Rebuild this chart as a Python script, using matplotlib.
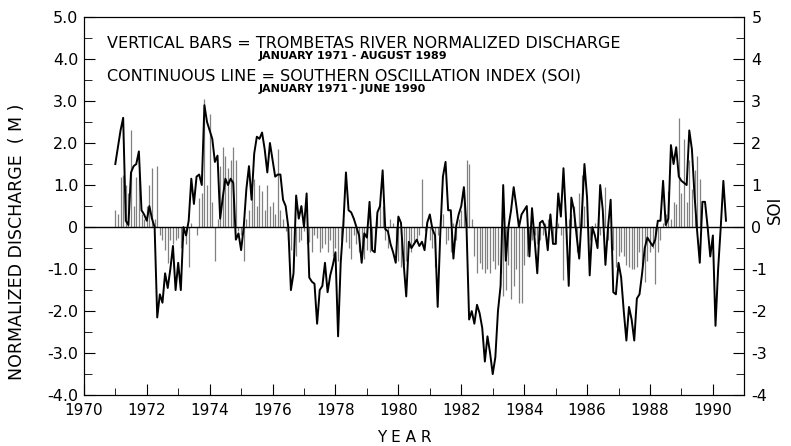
import matplotlib
matplotlib.use('Agg')
import matplotlib.pyplot as plt
from matplotlib.ticker import MultipleLocator

# monthly values, Jan 1971 onwards
discharge = [
    0.4, 0.3, 1.2, 1.25, 1.0, 0.8, 2.3, 0.5, 1.2, 1.3, 0.3, 0.2,
    0.5, 1.0, 1.4, 0.2, 1.45, -0.2, -0.3, -0.55, -0.85, -0.3, -0.4, -0.3,
    -0.25, -0.5, -0.3, -0.4, -0.95, 0.1, 0.0, -0.2, 0.7, 0.8, 3.05, 1.0,
    2.7, 0.6, -0.8, 0.2, 1.45, 1.9, 1.7, 1.4, 1.6, 1.9, 1.6, -0.1,
    -0.2, -0.8, 0.2, 0.4, 0.9, 1.15, 0.5, 1.0, 0.85, 0.4, 1.0, 0.5,
    0.6, 0.3, 1.85, 0.4, 0.2, -0.1, -0.3, -0.55, -0.45, -0.7, -0.35, -0.3,
    -0.1, -0.4, -0.35, -0.6, -0.2, -0.25, -0.6, -0.5, -0.4, -0.6, -0.3, -0.7,
    -0.5, -0.8, -0.3, 0.2, -0.35, -0.5, -0.75, -0.2, -0.4, -0.6, -0.65, -0.75,
    -0.55, -0.6, -0.5, -0.4, 0.3, 0.55, 0.5, -0.3, -0.5, 0.2, 0.1, -0.6,
    -0.8, -0.95, -0.9, -0.8, -0.5, -0.6, -0.4, -0.35, -0.2, 1.15, -0.1, 0.2,
    -0.3, -0.5, -0.95, -0.2, 0.2, 0.3, -0.4, -0.3, -0.6, 0.1, -0.3, 0.2,
    0.4, 0.9, 1.6, 1.5, 0.2, -0.7, -1.1, -0.85, -1.0, -1.1, -1.0, -1.1,
    -0.8, -1.0, -0.9, -1.1, -1.65, -1.5, -0.9, -1.7, -1.4, -1.0, -1.8, -1.8,
    -0.9, -0.7, -0.5, -0.3, -0.2, -0.4, -0.3, -0.2, 0.1, 0.2, 0.3, -0.3,
    -0.4, 0.1, -0.2, -1.25, -0.4, 0.2, 0.3, 0.5, -0.6, 0.8, 1.25, 0.5,
    0.2, -0.3, -0.2, 0.1, 0.2, -0.2, 0.3, 0.95, -0.3, -0.5, -0.55, -0.95,
    -0.7, -0.6, -0.7, -0.9, -0.95, -1.0, -1.0, -0.95, -0.6, -0.9, -1.3, -0.8,
    -0.6, -0.5, -1.35, -0.6, -0.3, 0.1, 0.3, 0.85, 0.2, 0.6, 0.55, 2.6,
    0.8, 2.1, 0.6, 1.6, 0.9, 1.35, 1.7, 1.15,
]

soi = [
    1.5, 1.9, 2.3, 2.6, 0.15, 0.05, 1.3, 1.45, 1.5, 1.8, 0.4, 0.3,
    0.15, 0.5, 0.2, 0.0, -2.15, -1.6, -1.8, -1.1, -1.45, -1.0, -0.45, -1.5,
    -0.85, -1.5, 0.0, -0.2, 0.15, 1.15, 0.55, 1.2, 1.25, 1.0, 2.9, 2.5,
    2.3, 2.1, 1.55, 1.7, 0.2, 0.7, 1.15, 1.0, 1.15, 1.05, -0.3, -0.15,
    -0.55, 0.0, 0.9, 1.45, 0.65, 1.75, 2.15, 2.1, 2.25, 1.85, 1.3, 2.0,
    1.6, 1.2, 1.25, 1.25, 0.65, 0.5, 0.0, -1.5, -1.1, 0.75, 0.2, 0.5,
    0.0, 0.8, -1.2, -1.3, -1.35, -2.3, -1.5, -1.4, -0.85, -1.55, -1.15, -0.9,
    -0.6, -2.6, -0.85, 0.05, 1.3, 0.4, 0.35, 0.2, 0.0, -0.2, -0.85, -0.15,
    -0.25, 0.6, -0.55, -0.6, 0.35, 0.5, 1.35, -0.05, -0.1, -0.4, -0.6, -0.85,
    0.25, 0.1, -0.85, -1.65, -0.35, -0.5, -0.4, -0.3, -0.45, -0.35, -0.55, 0.1,
    0.3, -0.05, -0.2, -1.9, -0.15, 1.2, 1.55, 0.4, 0.4, -0.75, 0.0, 0.3,
    0.5, 0.95, 0.0, -2.2, -2.0, -2.3, -1.85, -2.05, -2.4, -3.2, -2.6, -3.0,
    -3.5, -3.1, -2.0, -1.4, 1.0, -0.8, 0.0, 0.4, 0.95, 0.5, 0.0, 0.3,
    0.4, 0.5, -0.7, 0.45, -0.3, -1.1, 0.1, 0.15, 0.0, -0.55, 0.3, -0.4,
    -0.4, 0.8, 0.25, 1.4, 0.15, -1.4, 0.7, 0.4, -0.2, -0.75, 0.3, 1.5,
    0.7, -1.15, 0.0, -0.2, -0.5, 1.0, 0.4, -0.9, 0.0, 0.65, -1.55, -1.6,
    -0.85, -1.2, -2.0, -2.7, -1.9, -2.2, -2.7, -1.7, -1.6, -1.1, -0.5, -0.25,
    -0.35, -0.45, -0.3, 0.15, 0.15, 1.1, 0.05, 0.2, 1.95, 1.5, 1.9, 1.2,
    1.1, 1.05, 1.0, 2.3, 1.85, 0.75, -0.1, -0.85, 0.6, 0.6, 0.0, -0.7,
    -0.2, -2.35, -1.0, 0.0, 1.1, 0.15,
]

left_ticks = [5, 4, 3, 2, 1, 0, -1, -2, -3, -4]
left_labels = ['5.0', '4.0', '3.0', '2.0', '1.0', '0', '-1.0', '-2.0', '-3.0', '-4.0']
right_labels = ['5', '4', '3', '2', '1', '0', '-1', '-2', '-3', '-4']
year_ticks = list(range(1970, 1991, 2))

bar_x = [1971 + i / 12 for i in range(len(discharge))]
soi_x = [1971 + i / 12 for i in range(len(soi))]

plt.rcParams['font.family'] = ['DejaVu Sans']

fig = plt.figure(figsize=(7.91, 4.46), dpi=100)
ax = fig.add_axes([0.106, 0.114, 0.835, 0.848])

ax.vlines(bar_x, 0, discharge, color='0.5', linewidth=0.9)
ax.plot(soi_x, soi, color='black', linewidth=1.4)
ax.axhline(0, color='black', linewidth=1.0)

ax.set_xlim(1970, 1991)
ax.set_ylim(-4, 5)

ax.set_xticks(year_ticks)
ax.set_xticklabels([str(y) for y in year_ticks], fontsize=11)
ax.xaxis.set_minor_locator(MultipleLocator(1))
ax.set_yticks(left_ticks)
ax.set_yticklabels(left_labels, fontsize=11.5)
ax.yaxis.set_minor_locator(MultipleLocator(0.5))
ax.tick_params(axis='x', which='major', direction='in', length=8, top=False, pad=6)
ax.tick_params(axis='x', which='minor', direction='in', length=5, top=False)
ax.tick_params(axis='y', which='major', direction='in', length=8, pad=4)
ax.tick_params(axis='y', which='minor', direction='in', length=6)

ax2 = ax.twinx()
ax2.set_ylim(-4, 5)
ax2.set_yticks(left_ticks)
ax2.set_yticklabels(right_labels, fontsize=11.5)
ax2.yaxis.set_minor_locator(MultipleLocator(0.5))
ax2.tick_params(axis='y', which='major', direction='in', length=8, pad=5)
ax2.tick_params(axis='y', which='minor', direction='in', length=6)

ax.set_xlabel('Y E A R', fontsize=11)
ax.xaxis.set_label_coords(0.485, -0.093)
ax.set_ylabel('NORMALIZED DISCHARGE  ( M )', fontsize=12.5)
ax.yaxis.set_label_coords(-0.088, 0.405)
ax2.set_ylabel('SOI', fontsize=12, rotation=90)
ax2.yaxis.set_label_coords(1.033, 0.49)

ax.text(1970.75, 4.37, 'VERTICAL BARS = TROMBETAS RIVER NORMALIZED DISCHARGE',
        fontsize=11.5, va='center')
ax.text(1975.55, 4.06, 'JANUARY 1971 - AUGUST 1989', fontsize=8,
        fontweight='bold', va='center')
ax.text(1970.75, 3.6, 'CONTINUOUS LINE = SOUTHERN OSCILLATION INDEX (SOI)',
        fontsize=11.5, va='center')
ax.text(1975.55, 3.29, 'JANUARY 1971 - JUNE 1990', fontsize=8,
        fontweight='bold', va='center')

fig.savefig('out.png', dpi=100)
